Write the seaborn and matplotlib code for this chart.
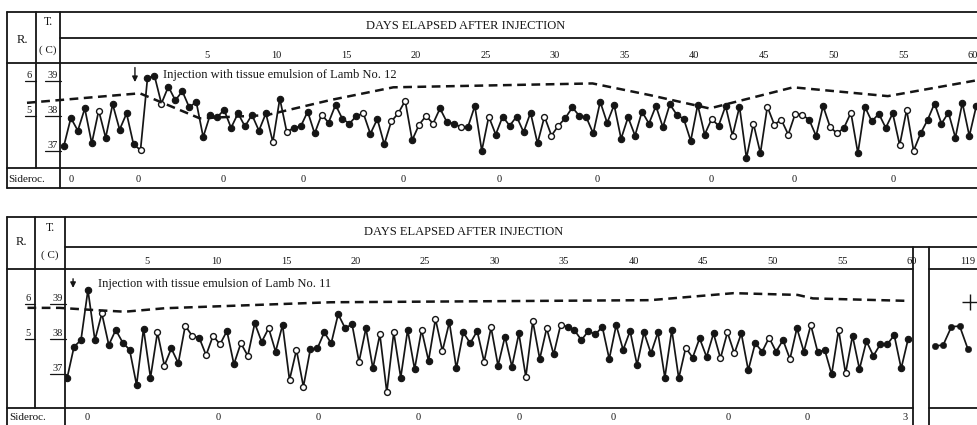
import numpy as np
import matplotlib
matplotlib.use("Agg")
import matplotlib.pyplot as plt
import matplotlib.transforms as mtransforms
from matplotlib.lines import Line2D
import seaborn as sns

W, H = 977, 425
INK = "#151515"

# ---- upper record: injection with emulsion of Lamb No. 12 (two readings a day) ----
top_temp = [37.15, 37.94, 37.58, 38.21, 37.22, 38.15, 37.38, 38.33, 37.61, 38.07,
            37.19, 37.03, 39.07, 39.14, 38.35, 38.83, 38.44, 38.70, 38.24, 38.40,
            37.40, 38.03, 37.96, 38.17, 37.66, 38.07, 37.70, 38.03, 37.58, 38.07,
            37.26, 38.49, 37.54, 37.66, 37.70, 38.12, 37.50, 38.03, 37.81, 38.31,
            37.91, 37.78, 38.00, 38.07, 37.49, 37.91, 37.19, 37.84, 38.07, 38.43,
            37.31, 37.75, 38.00, 37.78, 38.21, 37.82, 37.78, 37.68, 37.68, 38.28,
            37.01, 37.98, 37.47, 37.98, 37.72, 37.98, 37.54, 38.09, 37.22, 37.98,
            37.44, 37.72, 37.94, 38.24, 38.00, 37.96, 37.50, 38.40, 37.80, 38.31,
            37.35, 37.96, 37.44, 38.12, 37.78, 38.28, 37.68, 38.33, 38.03, 37.91,
            37.29, 38.31, 37.47, 37.91, 37.72, 38.28, 37.44, 38.26, 36.80, 37.78,
            36.94, 38.26, 37.75, 37.89, 37.47, 38.06, 38.03, 37.89, 37.43, 38.28,
            37.69, 37.50, 37.66, 38.09, 36.94, 38.26, 37.84, 38.06, 37.66, 38.07,
            37.17, 38.17, 37.01, 37.50, 37.88, 38.35, 37.78, 38.09, 37.38, 38.37,
            37.43, 38.28]
top_open = [5, 11, 14, 30, 32, 37, 43, 47, 48, 49, 51, 52, 53, 57, 61, 69, 70, 71,
            93, 96, 99, 101, 102, 103, 104, 105, 106, 110, 111, 113, 120, 121, 122]
top_first_day = -5.25
top_resp_day = [-7.9, -5.5, 0.2, 4.5, 9.3, 13.9, 18.4, 32.7, 36.8, 41.1, 47.1, 53.9, 60.3]
top_resp = [5.37, 5.45, 5.64, 4.93, 5.02, 5.45, 5.81, 5.92, 5.59, 5.21, 5.81, 5.56, 6.01]
top_sideroc_day = [-4.7, 0.05, 6.2, 11.9, 19.1, 26.0, 33.0, 41.2, 47.2, 54.3]
top_sideroc = ["0", "0", "0", "0", "0", "0", "0", "0", "0", "0"]

# ---- lower record: injection with emulsion of Lamb No. 11 ----
bot_temp = [36.88, 37.78, 37.97, 39.40, 37.97, 38.73, 37.83, 38.26, 37.90, 37.69,
            36.69, 38.29, 36.90, 38.19, 37.24, 37.73, 37.31, 38.38, 38.09, 38.04,
            37.54, 38.09, 37.85, 38.23, 37.28, 37.88, 37.52, 38.45, 37.92, 38.31,
            37.64, 38.40, 36.83, 37.69, 36.64, 37.71, 37.73, 38.19, 37.88, 38.71,
            38.31, 38.42, 37.35, 38.31, 37.16, 38.13, 36.48, 38.19, 36.90, 38.26,
            37.14, 38.26, 37.38, 38.57, 37.66, 38.48, 37.16, 38.19, 37.88, 38.23,
            37.35, 38.33, 37.24, 38.07, 37.21, 38.16, 36.92, 38.51, 37.43, 38.31,
            37.56, 38.40, 38.35, 38.25, 37.97, 38.23, 38.13, 38.35, 37.43, 38.40,
            37.69, 38.23, 37.26, 38.19, 37.59, 38.19, 36.90, 38.26, 36.88, 37.75,
            37.47, 38.02, 37.49, 38.16, 37.45, 38.19, 37.59, 38.16, 37.11, 37.88,
            37.64, 38.04, 37.64, 37.97, 37.43, 38.31, 37.64, 38.40, 37.62, 37.69,
            36.99, 38.26, 37.02, 38.09, 37.14, 37.94, 37.52, 37.85, 37.85, 38.11,
            37.16, 38.00]
bot_open = [5, 13, 14, 17, 18, 20, 21, 22, 25, 26, 29, 32, 33, 34, 42, 45, 46, 47,
            51, 53, 54, 60, 61, 66, 67, 69, 71, 89, 94, 95, 96, 101, 104, 107, 111, 112]
bot_first_day = -0.75
bot_resp_day = [-3.6, -1.3, 1.1, 3.4, 6.3, 18.2, 41.2, 47.2, 51.8, 52.9, 59.7]
bot_resp = [5.89, 5.89, 5.83, 5.78, 5.88, 6.05, 6.11, 6.31, 6.26, 6.16, 6.09]
bot_sideroc_day = [0.7, 10.1, 17.3, 24.5, 31.8, 38.5, 46.8, 52.5, 59.5]
bot_sideroc = ["0", "0", "0", "0", "0", "0", "0", "0", "3"]

# late readings (day 119 insert)
late_day = [117.0, 117.5, 118.0, 118.5, 119.0]
late_temp = [37.80, 37.83, 38.35, 38.37, 37.71]
death_day, death_temp = 119.1, 39.07

day_ticks = [5, 10, 15, 20, 25, 30, 35, 40, 45, 50, 55, 60]

sns.set_style("white")
plt.rcParams["font.family"] = ["Liberation Serif", "DejaVu Serif"]

fig = plt.figure(figsize=(W / 100, H / 100), dpi=100)


def fx(x):
    return x / W


def fy(y):
    return 1 - y / H


def rect(x0, y0, x1, y1):
    return [fx(x0), fy(y1), (x1 - x0) / W, (y1 - y0) / H]


def rule(xs, ys, lw=1.3):
    fig.add_artist(Line2D([fx(x) for x in xs], [fy(y) for y in ys], color=INK, lw=lw))


def put(x, y, s, size=9, ha="center", va="center"):
    fig.text(fx(x), fy(y), s, fontsize=size, ha=ha, va=va, color=INK)


def record(ax, first_day, temp, open_idx, resp_day, resp, xlim, ylim):
    temp = np.array(temp)
    days = first_day + 0.5 * np.arange(len(temp))
    hollow = np.isin(np.arange(len(temp)), open_idx)
    sns.lineplot(x=days, y=temp, color=INK, lw=1.25, estimator=None, sort=False, ax=ax)
    sns.scatterplot(x=days[~hollow], y=temp[~hollow], color=INK, edgecolor=INK,
                    s=21, linewidth=0.8, zorder=3, ax=ax)
    sns.scatterplot(x=days[hollow], y=temp[hollow], color="white", edgecolor=INK,
                    s=18, linewidth=1.0, zorder=3, ax=ax)
    ax2 = ax.twinx()
    sns.lineplot(x=resp_day, y=resp, color=INK, lw=1.8, ax=ax2)
    dash = ax2.lines[-1]
    dash.set_dashes((3.5, 2.2))
    dash.set_clip_on(False)
    ax2.set_ylim(ylim[0] - 33, ylim[1] - 33)
    ax2.set_axis_off()
    for a in (ax, ax2):
        a.set_xlim(*xlim)
    ax.set_ylim(*ylim)
    ax.set_xlabel("")
    ax.set_ylabel("")
    ax.set_yticks([])
    for sp in ax.spines.values():
        sp.set_visible(False)
    ax.xaxis.tick_top()
    ax.set_xticks(day_ticks)
    ax.set_xticklabels([str(d) for d in day_ticks])
    ax.tick_params(axis="x", length=0, pad=2, labelsize=7.5, colors=INK)


def scale(ax, x_t, x_col, x_left):
    tr = mtransforms.blended_transform_factory(fig.transFigure, ax.transData)
    for t in (39, 38, 37):
        fig.add_artist(Line2D([fx(x_t - 15), fx(x_t + 1)], [t, t], transform=tr, color=INK, lw=0.9))
        fig.text(fx(x_t - 2), t + 0.03, str(t), transform=tr, fontsize=7.5,
                 ha="right", va="bottom", color=INK)
    for r in (6, 5):
        fig.add_artist(Line2D([fx(x_left + 18), fx(x_col)], [r + 33, r + 33], transform=tr, color=INK, lw=0.9))
        fig.text(fx(x_col - 4), r + 33 + 0.03, str(r), transform=tr, fontsize=7.5,
                 ha="right", va="bottom", color=INK)


def sideroc(ax, days, labels, yfrac):
    tr = mtransforms.blended_transform_factory(ax.transData, ax.transAxes)
    for d, s in zip(days, labels):
        ax.text(d, yfrac, s, transform=tr, fontsize=7.5, ha="center", va="center",
                color=INK, clip_on=False)


# ---------- upper chart ----------
ax_top = fig.add_axes(rect(60, 63, 977, 168))
record(ax_top, top_first_day, top_temp, top_open, top_resp_day, top_resp,
       (-5.53, 60.3), (36.52, 39.50))
scale(ax_top, 60, 36, 7)
sideroc(ax_top, top_sideroc_day, top_sideroc, -0.105)
ax_top.annotate("", xy=(-0.15, 38.88), xytext=(-0.15, 39.45),
                arrowprops=dict(arrowstyle="-|>", color=INK, lw=1.0, mutation_scale=8))
ax_top.text(1.87, 39.16, "Injection with tissue emulsion of Lamb No. 12",
            fontsize=9, ha="left", va="center", color=INK)

rule([7, 977], [12, 12])
rule([60, 977], [38, 38])
rule([7, 977], [63, 63])
rule([7, 977], [168, 168])
rule([7, 977], [188, 188])
rule([7, 7], [12, 188])
rule([36, 36], [12, 168])
rule([60, 60], [12, 188])
put(466, 26, "DAYS ELAPSED AFTER INJECTION", size=9)
put(22, 40, "R.", size=9)
put(48, 22, "T.", size=8.5)
put(48, 50, "( C)", size=8)
put(8, 179, "Sideroc.", size=8, ha="left")

# ---------- lower chart ----------
ax_bot = fig.add_axes(rect(65, 269, 913, 408))
record(ax_bot, bot_first_day, bot_temp, bot_open, bot_resp_day, bot_resp,
       (-0.9, 60.1), (36.03, 40.0))
scale(ax_bot, 65, 35, 7)
sideroc(ax_bot, bot_sideroc_day, bot_sideroc, -0.065)
ax_bot.annotate("", xy=(-0.32, 39.38), xytext=(-0.32, 39.8),
                arrowprops=dict(arrowstyle="-|>", color=INK, lw=1.0, mutation_scale=8))
ax_bot.text(1.47, 39.56, "Injection with tissue emulsion of Lamb No. 11",
            fontsize=9, ha="left", va="center", color=INK)

ax_late = fig.add_axes(rect(929, 269, 977, 408))
sns.lineplot(x=late_day, y=late_temp, color=INK, lw=1.25, ax=ax_late)
sns.scatterplot(x=late_day, y=late_temp, color=INK, edgecolor=INK, s=21, zorder=3, ax=ax_late)
ax_late.plot([death_day], [death_temp], marker="+", ms=11, mew=1.0, color=INK)
ax_late.set_xlim(116.64, 119.55)
ax_late.set_ylim(36.03, 40.0)
ax_late.set_yticks([])
ax_late.set_xlabel("")
ax_late.set_ylabel("")
for sp in ax_late.spines.values():
    sp.set_visible(False)
ax_late.xaxis.tick_top()
ax_late.set_xticks([119])
ax_late.set_xticklabels(["119"])
ax_late.tick_params(axis="x", length=0, pad=2, labelsize=7.5, colors=INK)

rule([7, 977], [217, 217])
rule([65, 977], [247, 247])
rule([7, 913], [269, 269])
rule([929, 977], [269, 269])
rule([7, 913], [408, 408])
rule([929, 977], [408, 408])
rule([7, 7], [217, 425])
rule([35, 35], [217, 408])
rule([65, 65], [217, 425])
rule([913, 913], [247, 425])
rule([929, 929], [247, 425])
put(464, 232, "DAYS ELAPSED AFTER INJECTION", size=9)
put(21, 242, "R.", size=9)
put(50, 228, "T.", size=8.5)
put(50, 255, "( C)", size=8)
put(9, 418, "Sideroc.", size=8, ha="left")

fig.savefig("out.png", dpi=100, facecolor="white")
